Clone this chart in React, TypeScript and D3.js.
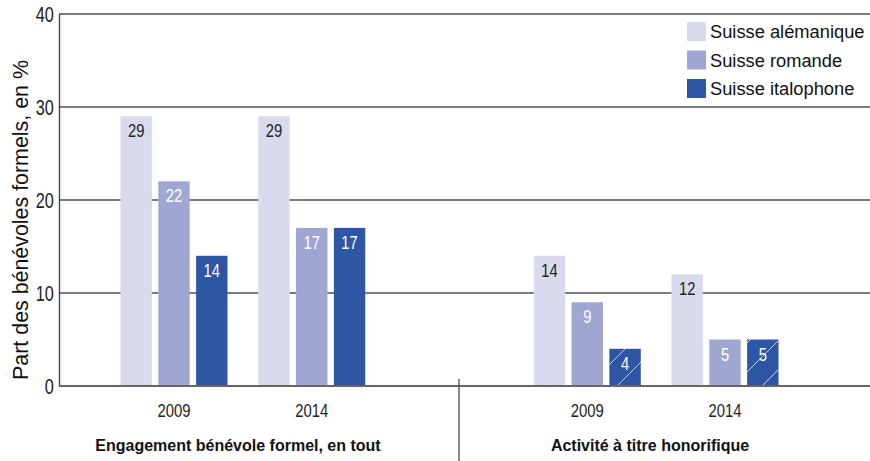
import React, { useEffect, useRef } from 'react'
import { select, scaleBand, scaleLinear, axisLeft } from 'd3'

const groups = ['a2009', 'a2014', 'gap', 'b2009', 'b2014']
const years = ['2009', '2014', '', '2009', '2014']
const sections = ['Engagement bénévole formel, en tout', 'Activité à titre honorifique']
const seriesNames = ['Suisse alémanique', 'Suisse romande', 'Suisse italophone']
const alemanique = [29, 29, null, 14, 12]
const romande = [22, 17, null, 9, 5]
const italophone = [14, 17, null, 4, 5]
const italophoneHatched = [false, false, false, true, true]
const yTicks = [0, 10, 20, 30, 40]

const colors = ['#d7dbed', '#a0a6d2', '#2f55a5']
const labelColors = ['#222', '#fff', '#fff']
const sans = 'Arial, "Liberation Sans", Helvetica, sans-serif'

const App = () => {
  const svgRef = useRef(null)

  useEffect(() => {
    const svg = select(svgRef.current)
    svg.selectAll('*').remove()

    const left = 59
    const right = 870
    const y = scaleLinear().domain([0, 40]).range([386, 14])

    const x0 = scaleBand()
      .domain(groups)
      .range([105.125, 793.875])
      .paddingInner(0.223)
      .paddingOuter(0.1115)
    const x1 = scaleBand()
      .domain(seriesNames)
      .range([0, x0.bandwidth()])
      .paddingInner(0.17)

    const defs = svg.append('defs')
    const pat = defs.append('pattern')
      .attr('id', 'hatch')
      .attr('patternUnits', 'userSpaceOnUse')
      .attr('width', 29)
      .attr('height', 29)
    pat.append('rect').attr('width', 29).attr('height', 29).attr('fill', colors[2])
    pat.append('path')
      .attr('d', 'M0,17 L17,0 M17,29 L29,17')
      .attr('stroke', '#fff')
      .attr('stroke-width', 0.9)
      .attr('opacity', 0.8)

    // gridlines
    svg.append('g')
      .selectAll('line')
      .data(yTicks.slice(1))
      .join('line')
      .attr('x1', left)
      .attr('x2', right)
      .attr('y1', d => y(d))
      .attr('y2', d => y(d))
      .attr('stroke', '#505050')
      .attr('stroke-width', 1.4)

    // y axis
    const yAxis = axisLeft(y).tickValues(yTicks).tickSize(0).tickPadding(7)
    const ga = svg.append('g').attr('transform', `translate(${left},0)`).call(yAxis)
    ga.select('.domain').attr('stroke', '#444').attr('stroke-width', 1.4)
    ga.selectAll('text')
      .attr('font-family', sans)
      .attr('font-size', 22)
      .attr('fill', '#222')
      .attr('transform', 'scale(0.74,1)')

    svg.append('text')
      .attr('transform', 'translate(28,220) rotate(-90)')
      .attr('text-anchor', 'middle')
      .attr('font-family', sans)
      .attr('font-size', 21.4)
      .attr('fill', '#111')
      .text('Part des bénévoles formels, en %')

    const series = [alemanique, romande, italophone]
    series.forEach((vals, si) => {
      const name = seriesNames[si]
      const items = vals
        .map((v, i) => ({ v, g: groups[i], hatched: si === 2 && italophoneHatched[i] }))
        .filter(d => d.v !== null)
      const g = svg.append('g')
      g.selectAll('rect')
        .data(items)
        .join('rect')
        .attr('x', d => x0(d.g) + x1(name))
        .attr('y', d => y(d.v))
        .attr('width', x1.bandwidth())
        .attr('height', d => y(0) - y(d.v))
        .attr('fill', d => (d.hatched ? 'url(#hatch)' : colors[si]))
      g.selectAll('text')
        .data(items)
        .join('text')
        .attr('transform', d =>
          `translate(${x0(d.g) + x1(name) + x1.bandwidth() / 2},${y(d.v) + 21}) scale(0.82,1)`)
        .attr('text-anchor', 'middle')
        .attr('font-family', sans)
        .attr('font-size', 18)
        .attr('fill', labelColors[si])
        .text(d => d.v)
    })

    // baseline
    svg.append('line')
      .attr('x1', left).attr('x2', right)
      .attr('y1', y(0)).attr('y2', y(0))
      .attr('stroke', '#666').attr('stroke-width', 2)

    // year labels
    svg.append('g')
      .selectAll('text')
      .data(groups.filter((g, i) => years[i] !== ''))
      .join('text')
      .attr('transform', d => `translate(${x0(d) + x0.bandwidth() / 2},417) scale(0.85,1)`)
      .attr('text-anchor', 'middle')
      .attr('font-family', sans)
      .attr('font-size', 17.5)
      .attr('fill', '#222')
      .text(d => years[groups.indexOf(d)])

    // section labels
    const secCenters = [238, 650]
    svg.append('g')
      .selectAll('text')
      .data(sections)
      .join('text')
      .attr('x', (d, i) => secCenters[i])
      .attr('y', 451)
      .attr('text-anchor', 'middle')
      .attr('font-family', sans)
      .attr('font-size', 16)
      .attr('font-weight', 'bold')
      .attr('fill', '#111')
      .text(d => d)

    svg.append('line')
      .attr('x1', 459).attr('x2', 459)
      .attr('y1', 379).attr('y2', 461)
      .attr('stroke', '#555').attr('stroke-width', 1.4)

    // legend
    const lg = svg.append('g').attr('transform', 'translate(687,22)')
    const rows = lg.selectAll('g')
      .data(seriesNames)
      .join('g')
      .attr('transform', (d, i) => `translate(0,${i * 28.5})`)
    rows.append('rect')
      .attr('width', 19).attr('height', 19)
      .attr('fill', (d, i) => colors[i])
    rows.append('text')
      .attr('x', 23).attr('y', 16)
      .attr('font-family', sans)
      .attr('font-size', 18.3)
      .attr('fill', '#111')
      .text(d => d)
  }, [])

  return (
    <svg ref={svgRef} width="870" height="461" style={{ position: 'absolute', left: 0, top: 0 }} />
  )
}

export default App
